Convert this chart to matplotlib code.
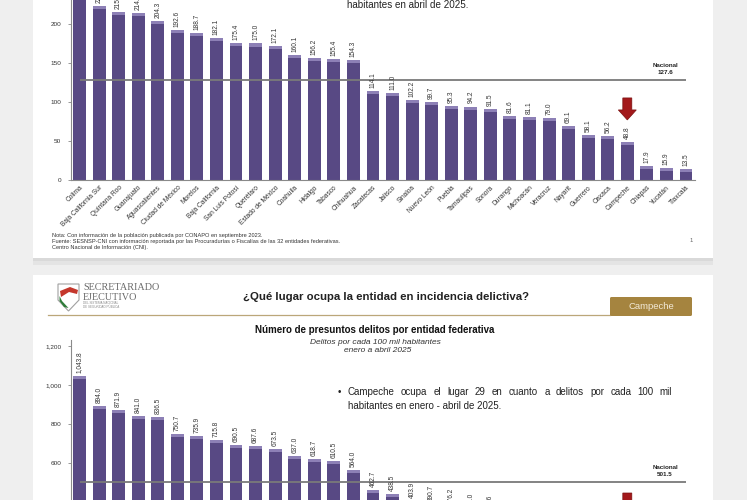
import matplotlib
matplotlib.use('Agg')
import matplotlib.pyplot as plt
import matplotlib.patches as mpatches
import matplotlib.transforms as mtransforms
import numpy as np

plt.rcParams['font.family'] = ['Liberation Sans', 'DejaVu Sans']

W, H = 747, 500

# slide 1: tasa por cada 100 mil habitantes, abril 2025
estados_top = ['Colima', 'Baja California Sur', 'Quintana Roo', 'Guanajuato', 'Aguascalientes',
               'Ciudad de México', 'Morelos', 'Baja California', 'San Luis Potosí', 'Querétaro',
               'Estado de México', 'Coahuila', 'Hidalgo', 'Tabasco', 'Chihuahua', 'Zacatecas',
               'Jalisco', 'Sinaloa', 'Nuevo León', 'Puebla', 'Tamaulipas', 'Sonora', 'Durango',
               'Michoacán', 'Veracruz', 'Nayarit', 'Guerrero', 'Oaxaca', 'Campeche', 'Chiapas',
               'Yucatán', 'Tlaxcala']
valores_top = [262.0, 222.9, 215.6, 214.2, 204.3, 192.6, 188.7, 182.1, 175.4, 175.0, 172.1,
               160.1, 156.2, 155.4, 154.3, 114.1, 111.0, 102.2, 99.7, 95.3, 94.2, 91.5, 81.6,
               81.1, 79.0, 69.1, 58.1, 56.2, 48.8, 17.9, 15.9, 13.5]
nacional_top = 127.6
yticks_top = [0, 50, 100, 150, 200, 250]

# slide 2: presuntos delitos por cada 100 mil habitantes, enero-abril 2025
valores_bot = [1043.8, 894.0, 871.9, 841.0, 836.5, 750.7, 735.9, 715.8, 690.5, 687.6, 673.5,
               637.0, 618.7, 610.5, 564.0, 462.7, 438.5, 403.9, 390.7, 376.2, 350.0, 338.6,
               325.2, 316.5, 305.1, 290.4, 276.8, 262.3, 220.5, 205.9, 190.6, 168.4]
nacional_bot = 501.5
yticks_bot = [0, 200, 400, 600, 800, 1000, 1200]
idx_campeche = 28

PURPLE = '#584984'
CAP = '#8d80b6'
RED = '#a3191b'
GOLD = '#a5843f'

fig = plt.figure(figsize=(W / 100, H / 100), dpi=100)
fig.patch.set_facecolor('#efefef')

# pixel coordinates (y down) -> figure
PX = mtransforms.Affine2D().scale(1 / W, -1 / H).translate(0, 1) + fig.transFigure


def rect(x, y, w, h, color, z=-5, **kw):
    fig.add_artist(mpatches.Rectangle((x, y), w, h, transform=PX, facecolor=color,
                                      edgecolor='none', zorder=z, **kw))


def ptext(x, y, s, **kw):
    return fig.text(x / W, 1 - y / H, s, **kw)


# slide panels
rect(33, -5, 680, 263, 'white')
rect(33, 258, 680, 3, '#d9d9d9')
rect(33, 261, 680, 4, '#e4e4e4')
rect(33, 275, 680, 240, 'white')


def draw_chart(ax, vals, nacional, yticks, px_per_unit, fmt):
    x = np.arange(len(vals))
    vals = np.array(vals)
    cap = 3 / px_per_unit
    ax.bar(x, vals, width=0.66, color=PURPLE, zorder=2)
    ax.bar(x, np.full(len(vals), cap), bottom=vals - cap, width=0.66, color=CAP, zorder=2)
    ax.set_facecolor('none')
    ax.set_xlim(-0.435, len(vals) - 1 + 0.46)
    ax.set_yticks(yticks)
    ax.set_yticklabels([f'{t:,}' for t in yticks], fontsize=4.6, color='#333333')
    ax.tick_params(axis='y', length=2, width=0.6, color='#888888', pad=5)
    for s in ['top', 'right']:
        ax.spines[s].set_visible(False)
    for s in ['left', 'bottom']:
        ax.spines[s].set_color('#8a8a8a')
        ax.spines[s].set_linewidth(0.8)
    ax.hlines(nacional, 0, len(vals) - 1, color='#7a7a7a', lw=1.3, zorder=3)
    ax.annotate(f'Nacional\n{nacional:.1f}', (29.93, nacional), xytext=(0, 4),
                textcoords='offset points', ha='center', va='bottom', fontsize=4.5,
                fontweight='bold', linespacing=1.4, color='#222222')
    for i, v in enumerate(vals):
        ax.annotate(fmt.format(v), (i, v), xytext=(0, 2.2), textcoords='offset points',
                    rotation=90, ha='center', va='bottom', fontsize=4.7, color='#333333')
    # red arrow above Campeche
    verts = np.array([(-4.5, 44), (4.5, 44), (4.5, 32), (9, 32), (0, 22),
                      (-9, 32), (-4.5, 32)]) / 100
    tr = fig.dpi_scale_trans + mtransforms.ScaledTranslation(idx_campeche, vals[idx_campeche],
                                                               ax.transData)
    ax.add_patch(mpatches.Polygon(verts, closed=True, transform=tr, facecolor=RED,
                                  edgecolor='#7a1010', lw=0.5, zorder=4, clip_on=False))


# top chart: zero at y=180 px, 0.78 px per unit
ax1 = fig.add_axes([71 / W, 1 - 180 / H, 624 / W, 220 / H])
ax1.set_ylim(0, 220 / 0.78)
draw_chart(ax1, valores_top, nacional_top, yticks_top, 0.78, '{:.1f}')
ax1.set_xticks(np.arange(len(estados_top)))
ax1.set_xticklabels(estados_top, rotation=45, ha='right', rotation_mode='anchor',
                    fontsize=4.8, color='#333333')
ax1.tick_params(axis='x', length=0, pad=3)

# bottom chart: zero at y=580 px (off canvas), 0.195 px per unit
ax2 = fig.add_axes([71 / W, 1 - 580 / H, 624 / W, 240 / H])
ax2.set_ylim(0, 240 / 0.195)
draw_chart(ax2, valores_bot, nacional_bot, yticks_bot, 0.195, '{:,.1f}')
ax2.set_xticks([])

# slide 1 texts
ptext(347, 5, 'habitantes en abril de 2025.', fontsize=7.1, color='#222222', va='center')
notas = ['Nota: Con información de la población publicada por CONAPO en septiembre 2023.',
         'Fuente: SESNSP-CNI con información reportada por las Procuradurías o Fiscalías de las 32 entidades federativas.',
         'Centro Nacional de Información (CNI).']
for k, s in enumerate(notas):
    ptext(52, 236 + 6 * k, s, fontsize=4.1, color='#333333', va='center')
ptext(691, 240, '1', fontsize=4.2, color='#666666', va='center', ha='center')

# slide 2 header
shield = mpatches.Polygon([(58, 284), (79, 284), (79, 300), (68.5, 311), (58, 300)],
                          closed=True, transform=PX, facecolor='white', edgecolor='#a0a0a0',
                          lw=0.8, zorder=1)
fig.add_artist(shield)
fig.add_artist(mpatches.Polygon([(60, 291), (70, 287), (78, 290), (77, 294), (69, 292), (61, 297)],
                                closed=True, transform=PX, facecolor='#c4372c', edgecolor='none', zorder=2))
fig.add_artist(mpatches.Polygon([(59.5, 296), (62, 301), (68.5, 308), (64, 307), (59.5, 301)],
                                closed=True, transform=PX, facecolor='#2f7d3a', edgecolor='none', zorder=2))
ptext(83, 288, 'SECRETARIADO', fontsize=7.3, family=['Liberation Serif', 'DejaVu Serif'],
      color='#6a6a6a', va='center')
ptext(83, 297, 'EJECUTIVO', fontsize=7.3, family=['Liberation Serif', 'DejaVu Serif'],
      color='#6a6a6a', va='center')
ptext(83, 303.5, 'DEL SISTEMA NACIONAL', fontsize=2.2, color='#8a8a8a', va='center')
ptext(83, 307, 'DE SEGURIDAD PÚBLICA', fontsize=2.2, color='#8a8a8a', va='center')
fig.add_artist(plt.Line2D([48, 610], [314.5, 314.5], transform=PX, color='#bba779', lw=0.9))
fig.add_artist(mpatches.FancyBboxPatch((610, 297), 82, 19, boxstyle='round,pad=0,rounding_size=1.5',
                                       transform=PX, facecolor=GOLD, edgecolor='none', zorder=2))
ptext(651, 306.5, 'Campeche', fontsize=6.8, color='#f3ead8', ha='center', va='center')
ptext(243, 297, '¿Qué lugar ocupa la entidad en incidencia delictiva?', fontsize=8.2,
      fontweight='bold', color='#222222', va='center')
ptext(375, 330, 'Número de presuntos delitos por entidad federativa', fontsize=7.0,
      fontweight='bold', color='#111111', ha='center', va='center')
ptext(375, 342, 'Delitos por cada 100 mil habitantes', fontsize=6.0, style='italic',
      color='#333333', ha='center', va='center')
ptext(378, 351, 'enero a abril 2025', fontsize=6.0, style='italic', color='#333333',
      ha='center', va='center')

# justified bullet text
ptext(338, 392, '•', fontsize=7.0, color='#222222', va='center')
linea1 = 'Campeche ocupa el lugar 29 en cuanto a delitos por cada 100 mil'.split()
renderer = fig.canvas.get_renderer()
objs = [ptext(0, 392, w, fontsize=7.0, color='#222222', va='center') for w in linea1]
widths = [o.get_window_extent(renderer).width for o in objs]
gap = (672 - 348 - sum(widths)) / (len(objs) - 1)
xpos = 348
for o, w in zip(objs, widths):
    o.set_x(xpos / W)
    xpos += w + gap
ptext(348, 406, 'habitantes en enero - abril de 2025.', fontsize=7.0, color='#222222',
      va='center')

fig.savefig('out.png', dpi=100, facecolor=fig.get_facecolor())
